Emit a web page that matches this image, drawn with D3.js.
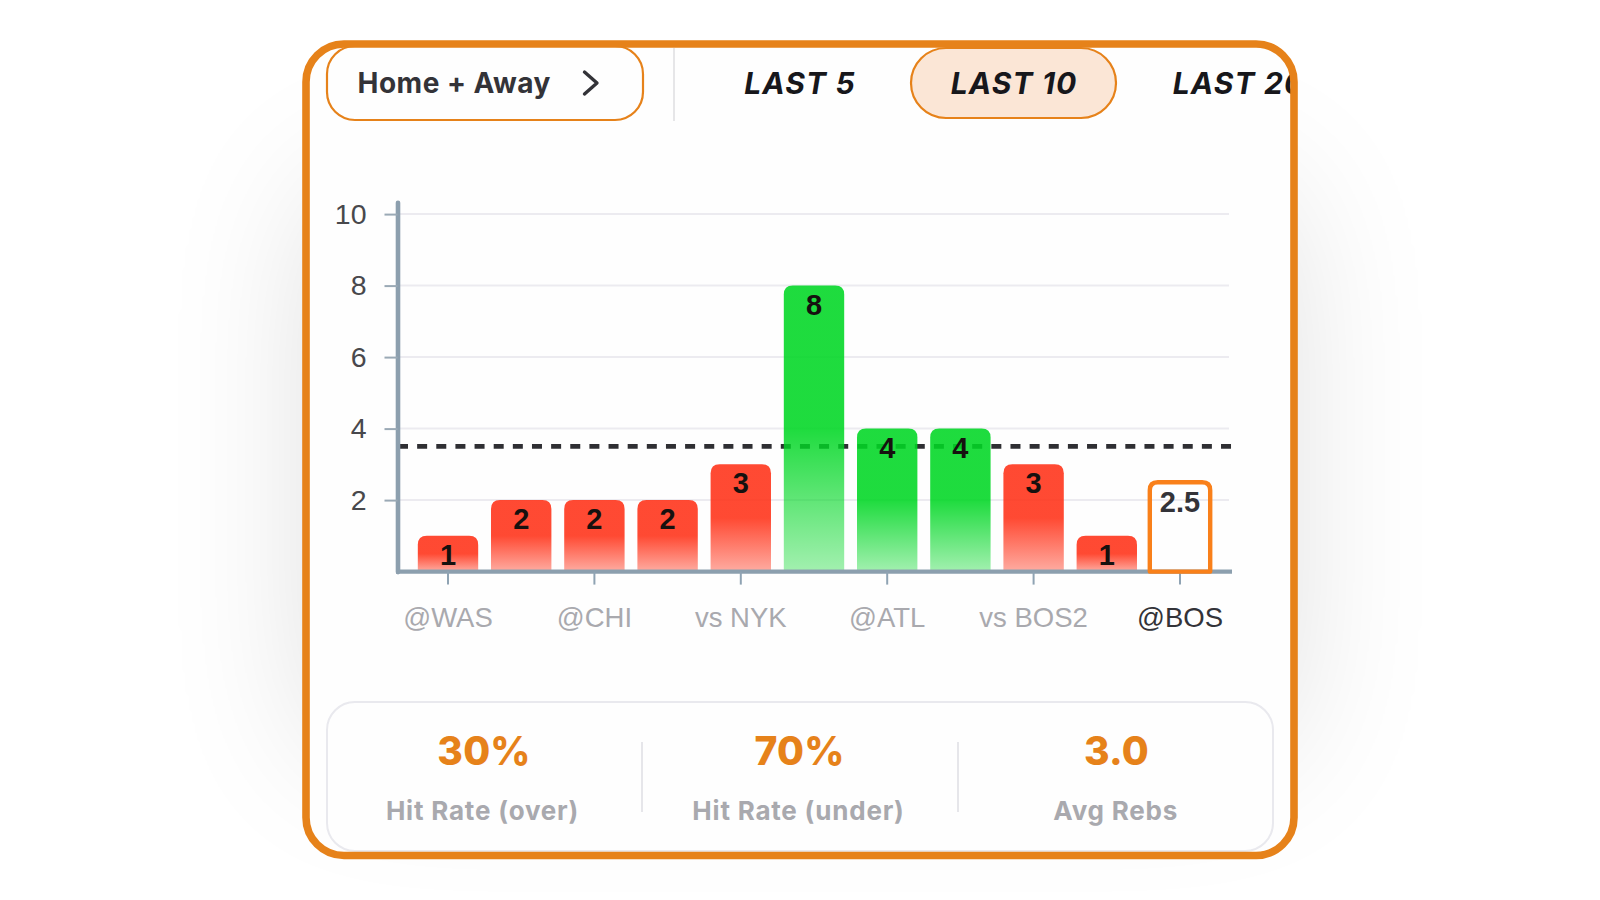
<!DOCTYPE html>
<html><head><meta charset="utf-8">
<script src="https://d3js.org/d3.v7.min.js"></script>
<style>html,body{margin:0;padding:0;background:#fff;overflow:hidden}svg{display:block}</style>
</head><body><div id="c"></div>
<script>
const categories=["@WAS","","@CHI","","vs NYK","","@ATL","","vs BOS2","","@BOS"];
const values=[1,2,2,2,3,8,4,4,3,1];
const upcomingValue=2.5;
const lineValue=3.5;
const yTicks=[2,4,6,8,10];
const windowTabs=["LAST 5","LAST 10","LAST 20"];
const statValues=["30%","70%","3.0"];
const statLabels=["Hit Rate (over)","Hit Rate (under)","Avg Rebs"];
const ORANGE="#e6821a";
const UI="Inter, sans-serif", CH="'Liberation Sans', Arial, sans-serif";

const svg=d3.select("#c").append("svg").attr("width",1600).attr("height",900);
const defs=svg.append("defs");
const blur=defs.append("filter").attr("id","glow").attr("x","-60%").attr("y","-60%").attr("width","220%").attr("height","220%");
blur.append("feGaussianBlur").attr("stdDeviation",78);
defs.append("clipPath").attr("id","inner").append("rect").attr("x",306).attr("y",44).attr("width",988).attr("height",811.5).attr("rx",38);
function grad(id,c,end){const g=defs.append("linearGradient").attr("id",id).attr("x1",0).attr("x2",0).attr("y1",0).attr("y2",1);
  g.append("stop").attr("offset","0%").attr("stop-color",c).attr("stop-opacity",.88);
  g.append("stop").attr("offset","50%").attr("stop-color",c).attr("stop-opacity",.88);
  g.append("stop").attr("offset","100%").attr("stop-color",c).attr("stop-opacity",end);}
grad("gRed","#ff3117",.4);grad("gGreen","#00d724",.36);

// card + shadow
svg.append("rect").attr("x",320).attr("y",190).attr("width",960).attr("height",560).attr("rx",40).attr("fill","#000").attr("opacity",.14).attr("filter","url(#glow)");
svg.append("rect").attr("x",306).attr("y",44).attr("width",988).attr("height",811.5).attr("rx",38).attr("fill","#fefefe");
const inner=svg.append("g").attr("clip-path","url(#inner)");

// header
inner.append("rect").attr("x",327).attr("y",46).attr("width",316).attr("height",74).attr("rx",28).attr("fill","none").attr("stroke",ORANGE).attr("stroke-width",2.2);
inner.append("text").text("Home + Away").attr("x",357.5).attr("y",93).attr("font-family",UI).attr("font-weight",700).attr("font-size",28).attr("letter-spacing",.5).attr("fill","#333338");
inner.append("path").attr("d","M584.5,72L597,83L584.5,94").attr("fill","none").attr("stroke","#333338").attr("stroke-width",3.4).attr("stroke-linecap","round").attr("stroke-linejoin","round");
inner.append("line").attr("x1",674).attr("x2",674).attr("y1",48).attr("y2",121).attr("stroke","#e6e6e8").attr("stroke-width",2);
inner.append("rect").attr("x",911).attr("y",48).attr("width",205).attr("height",70).attr("rx",35).attr("fill","#fbe6d6").attr("stroke",ORANGE).attr("stroke-width",2.2);
const tabX=[800,1014,1239];
inner.selectAll(".tab").data(windowTabs).join("text").attr("class","tab").text(d=>d).attr("x",(d,i)=>tabX[i]).attr("y",94)
  .attr("text-anchor","middle").attr("font-family",UI).attr("font-weight",700).attr("font-style","italic").attr("font-size",30).attr("letter-spacing",1.1).attr("fill","#17171b");

// chart
const x=d3.scaleBand().domain(d3.range(categories.length)).range([411.4,1216.6]).paddingInner(.175).paddingOuter(.0875);
const y=d3.scaleLinear().domain([0,10.33]).range([571.6,202.3]);
const gridG=svg.append("g");
gridG.selectAll("line").data(yTicks).join("line").attr("x1",398).attr("x2",1229).attr("y1",d=>y(d)).attr("y2",d=>y(d)).attr("stroke","#ecebf0").attr("stroke-width",2);
svg.append("line").attr("x1",398).attr("x2",1232).attr("y1",y(lineValue)).attr("y2",y(lineValue)).attr("stroke","#2f2f33").attr("stroke-width",4.8).attr("stroke-dasharray","10 9.14");
const topRound=(x0,y0,w,h,r)=>`M${x0},${y0+h}V${y0+r}Q${x0},${y0} ${x0+r},${y0}H${x0+w-r}Q${x0+w},${y0} ${x0+w},${y0+r}V${y0+h}Z`;
svg.append("g").selectAll("path").data(values).join("path")
  .attr("d",(d,i)=>topRound(x(i),y(d),x.bandwidth(),y(0)-y(d),9))
  .attr("fill",d=>d>lineValue?"url(#gGreen)":"url(#gRed)");

const yAxis=d3.axisLeft(y).tickValues(yTicks).tickSize(13).tickPadding(18).tickSizeOuter(0);
const yG=svg.append("g").attr("transform","translate(397.5,0)").call(yAxis);
yG.select(".domain").attr("stroke","#8c9fae").attr("stroke-width",4.6).attr("stroke-linecap","round");
yG.selectAll(".tick line").attr("stroke","#9aa9b5").attr("stroke-width",2);
yG.selectAll("text").attr("font-family",CH).attr("font-size",28.5).attr("fill","#48484c").attr("dy","0.32em");

const labelled=d3.range(categories.length).filter(i=>categories[i]);
const xAxis=d3.axisBottom(x).tickValues(labelled).tickFormat(i=>categories[i]).tickSize(13).tickPadding(23).tickSizeOuter(0);
const xG=svg.append("g").attr("transform","translate(0,571.6)").call(xAxis);
xG.select(".domain").attr("d","M396,0H1232").attr("stroke","#8c9fae").attr("stroke-width",4.4);
xG.selectAll(".tick line").attr("stroke","#8fa3b3").attr("stroke-width",2);
xG.selectAll("text").attr("font-family",CH).attr("font-size",27.5).attr("fill",(i)=>i===categories.length-1?"#333338":"#a9a9ae");

const last=categories.length-1;
svg.append("path").attr("d",topRound(x(last),y(upcomingValue),x.bandwidth(),y(0)-y(upcomingValue),8)+"")
  .attr("fill","none").attr("stroke","#f9801a").attr("stroke-width",4.4).attr("stroke-linejoin","round");
svg.append("g").selectAll("text").data(values).join("text").text(d=>d)
  .attr("x",(d,i)=>x(i)+x.bandwidth()/2).attr("y",d=>y(d)+29).attr("text-anchor","middle")
  .attr("font-family",CH).attr("font-weight",700).attr("font-size",29).attr("fill","#16110f");
svg.append("text").text(upcomingValue).attr("x",x(last)+x.bandwidth()/2).attr("y",y(upcomingValue)+30).attr("text-anchor","middle")
  .attr("font-family",CH).attr("font-weight",700).attr("font-size",29).attr("fill","#333338");

// stats
inner.append("rect").attr("x",327).attr("y",702).attr("width",946).attr("height",149).attr("rx",28).attr("fill","none").attr("stroke","#e9e9ee").attr("stroke-width",2);
const statX=[484,799.5,1116.5];
[642,958].forEach(v=>inner.append("line").attr("x1",v).attr("x2",v).attr("y1",742).attr("y2",812).attr("stroke","#e6e6ea").attr("stroke-width",2));
inner.selectAll(".sv").data(statValues).join("text").attr("class","sv").text(d=>d).attr("x",(d,i)=>statX[i]).attr("y",765)
  .attr("text-anchor","middle").attr("font-family",UI).attr("font-weight",800).attr("font-size",39).attr("letter-spacing",.2).attr("fill",ORANGE);
inner.selectAll(".sl").data(statLabels).join("text").attr("class","sl").text(d=>d).attr("x",(d,i)=>[482.5,798.5,1115.7][i]).attr("y",820)
  .attr("text-anchor","middle").attr("font-family",UI).attr("font-weight",700).attr("font-size",26).attr("letter-spacing",.8).attr("fill","#a9a9ae");

// frame
svg.append("rect").attr("x",306).attr("y",44).attr("width",988).attr("height",811.5).attr("rx",38).attr("fill","none").attr("stroke",ORANGE).attr("stroke-width",7.6);
</script></body></html>
